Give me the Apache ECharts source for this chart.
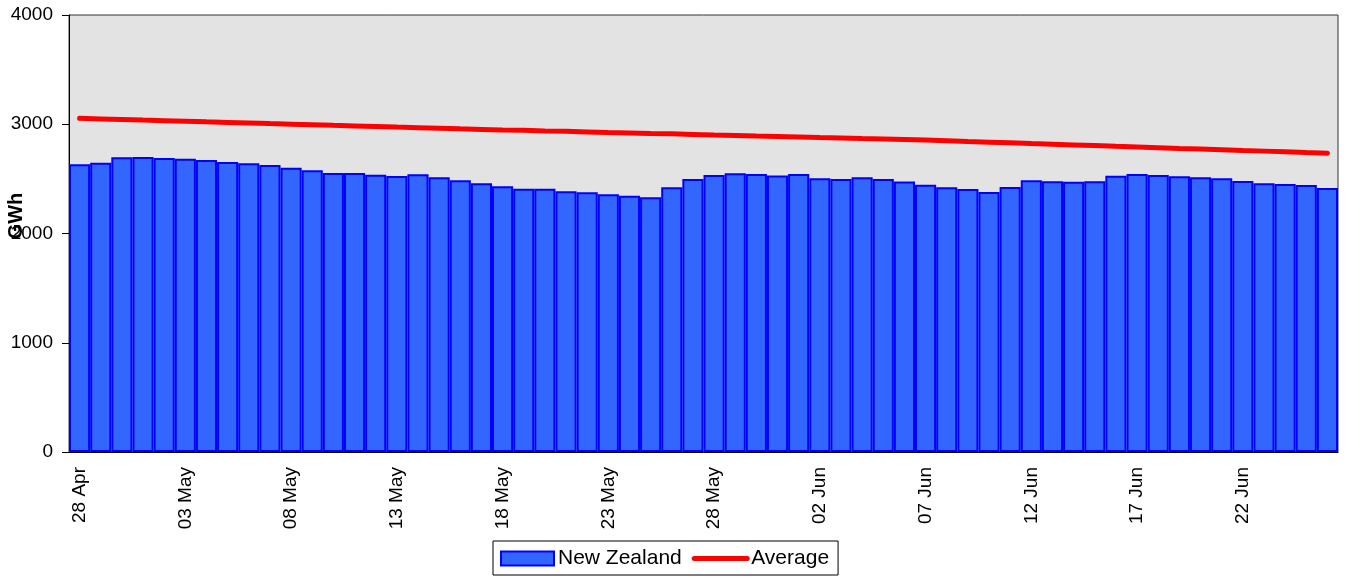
<!DOCTYPE html>
<html>
<head>
<meta charset="utf-8">
<script src="https://cdn.jsdelivr.net/npm/echarts@6/dist/echarts.min.js"></script>
<style>
  html, body { margin: 0; padding: 0; background: #fff; }
  #main { width: 1347px; height: 577px; }
</style>
</head>
<body>
<div id="main"></div>
<script>
// daily categories, 28 Apr .. 26 Jun
const days = [
  "28 Apr", "29 Apr", "30 Apr", "01 May", "02 May", "03 May", "04 May", "05 May", "06 May", "07 May",
  "08 May", "09 May", "10 May", "11 May", "12 May", "13 May", "14 May", "15 May", "16 May", "17 May",
  "18 May", "19 May", "20 May", "21 May", "22 May", "23 May", "24 May", "25 May", "26 May", "27 May",
  "28 May", "29 May", "30 May", "31 May", "01 Jun", "02 Jun", "03 Jun", "04 Jun", "05 Jun", "06 Jun",
  "07 Jun", "08 Jun", "09 Jun", "10 Jun", "11 Jun", "12 Jun", "13 Jun", "14 Jun", "15 Jun", "16 Jun",
  "17 Jun", "18 Jun", "19 Jun", "20 Jun", "21 Jun", "22 Jun", "23 Jun", "24 Jun", "25 Jun", "26 Jun"
];

const newZealand = [
  2633, 2648, 2697, 2700, 2691, 2685, 2673, 2654, 2642, 2627,
  2602, 2578, 2554, 2554, 2538, 2526, 2542, 2514, 2487, 2459,
  2432, 2410, 2410, 2386, 2377, 2359, 2346, 2331, 2423, 2499,
  2535, 2551, 2545, 2532, 2545, 2505, 2499, 2514, 2499, 2476,
  2447, 2423, 2407, 2380, 2425, 2487, 2478, 2474, 2478, 2529,
  2545, 2535, 2523, 2514, 2505, 2481, 2459, 2453, 2444, 2416
];

const average = [
  3054, 3049, 3044, 3038, 3033, 3028, 3022, 3017, 3012, 3006,
  3001, 2996, 2990, 2985, 2980, 2974, 2969, 2964, 2958, 2953,
  2948, 2944, 2939, 2935, 2930, 2925, 2921, 2916, 2912, 2907,
  2902, 2898, 2893, 2889, 2884, 2879, 2875, 2870, 2866, 2861,
  2855, 2849, 2842, 2836, 2830, 2823, 2817, 2811, 2805, 2798,
  2792, 2786, 2779, 2773, 2767, 2760, 2754, 2748, 2741, 2735
];

const font = "'Liberation Sans', Arial, sans-serif";

const option = {
  animation: false,
  backgroundColor: "#fff",
  textStyle: { fontFamily: font },
  grid: {
    left: 69,
    right: 9,
    top: 15,
    bottom: 125,
    show: true,
    backgroundColor: "#E3E3E3",
    borderColor: "#333",
    borderWidth: 1,
    outerBoundsMode: "none",
  },
  // y axis title, sits a bit above the middle like the original
  graphic: [
    {
      type: "text",
      x: 16,
      y: 216,
      rotation: Math.PI / 2,
      style: {
        text: "GWh",
        font: "bold 20px " + font,
        fill: "#000",
        textAlign: "center",
        textVerticalAlign: "middle",
      },
    },
  ],
  legend: {
    top: 541,
    left: 493,
    data: [
      { name: "New Zealand", icon: "rect" },
      {
        name: "Average",
        itemStyle: { opacity: 0 },
        lineStyle: { color: "#FF0000", width: 5, cap: "round" },
      },
    ],
    backgroundColor: "#fff",
    borderColor: "#000",
    borderWidth: 1,
    borderRadius: 0,
    padding: [7, 9, 6, 7],
    itemGap: 10,
    itemWidth: 53,
    itemHeight: 14,
    textStyle: { fontFamily: font, fontSize: 21, color: "#000", padding: [0, 0, 0, -1] },
  },
  xAxis: {
    type: "category",
    data: days,
    boundaryGap: true,
    axisLine: { lineStyle: { color: "#000", width: 1 } },
    axisTick: { interval: 4, inside: true, length: 7, lineStyle: { color: "#000" } },
    axisLabel: {
      interval: 4,
      rotate: 90,
      margin: 15,
      fontSize: 19,
      color: "#000",
      fontFamily: font,
    },
    splitLine: { show: false },
  },
  yAxis: {
    type: "value",
    min: 0,
    max: 4000,
    interval: 1000,
    axisLine: { show: true, lineStyle: { color: "#000", width: 1 } },
    axisTick: { show: true, length: 7, lineStyle: { color: "#000" } },
    axisLabel: {
      fontSize: 19,
      color: "#000",
      margin: 16,
      fontFamily: font,
      formatter: (v) => String(v),
    },
    splitLine: { show: false },
  },
  series: [
    {
      name: "New Zealand",
      type: "bar",
      data: newZealand,
      barCategoryGap: "0%",
      itemStyle: {
        color: "#3366FF",
        borderColor: "#0000FF",
        borderWidth: 2,
      },
    },
    {
      name: "Average",
      type: "line",
      data: average,
      showSymbol: false,
      symbol: "none",
      lineStyle: { color: "#FF0000", width: 5, cap: "round" },
      itemStyle: { color: "#FF0000" },
    },
  ],
};

const myChart = echarts.init(document.getElementById("main"));
myChart.setOption(option);
</script>
</body>
</html>
